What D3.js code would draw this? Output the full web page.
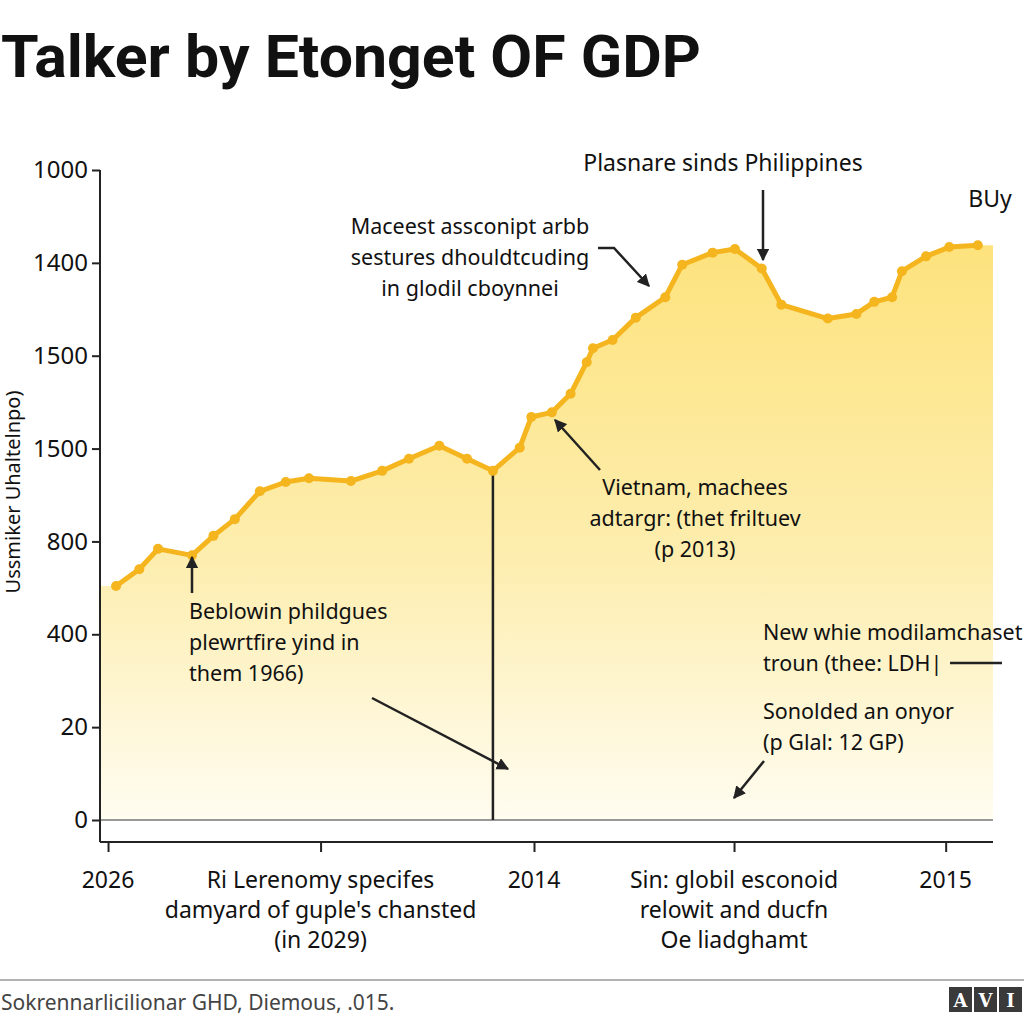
<!DOCTYPE html>
<html><head><meta charset="utf-8">
<script src="https://cdn.jsdelivr.net/npm/d3@7"></script>
<style>html,body{margin:0;padding:0;background:#fff;}svg{display:block;}</style>
</head><body>
<svg id="c" width="1024" height="1024"></svg>
<script>
// ---- data ----
const xPos = [1.8,4.4,6.5,10.3,12.7,15.1,17.9,20.8,23.4,28.1,31.6,34.6,38.0,41.1,44.0,47.0,48.3,50.6,52.7,54.5,55.2,57.4,60.0,63.3,65.2,68.6,71.1,74.1,76.3,81.5,84.7,86.7,88.7,89.8,92.5,95.1,98.3];
const values = [252,270,292,285,306,324,354,364,368,365,376,389,403,389,376,401,434,439,459,493,508,517,541,563,598,611,615,594,555,540,545,558,563,591,607,617,619];
const yTickVals = [0,100,200,300,400,500,600,700];
const yTickLabels = ["0","20","400","800","1500","1500","1400","1000"];
const xTickVals = [0.9,24.7,48.6,71.0,94.7];
const xTickLabels = [["2026"],["Ri Lerenomy specifes","damyard of guple's chansted","(in 2029)"],["2014"],["Sin: globil esconoid","relowit and ducfn","Oe liadghamt"],["2015"]];
const title = "Talker by Etonget OF GDP";
const yTitle = "Ussmiker Uhaltelnpo)";
const footer = "Sokrennarlicilionar GHD, Diemous, .015.";

const svg = d3.select("#c");
const FONT = "'Noto Sans', 'Open Sans', sans-serif";
const x = d3.scaleLinear().domain([0,100]).range([100,993]);
const y = d3.scaleLinear().domain([0,700]).range([820,170]);

const defs = svg.append("defs");
const grad = defs.append("linearGradient").attr("id","g").attr("gradientUnits","userSpaceOnUse")
  .attr("x1",0).attr("x2",0).attr("y1",240).attr("y2",830);
grad.append("stop").attr("offset","0%").attr("stop-color","#fde27c");
grad.append("stop").attr("offset","55%").attr("stop-color","#fdeeb0");
grad.append("stop").attr("offset","100%").attr("stop-color","#fffdf3");
const mk = defs.append("marker").attr("id","ah").attr("viewBox","0 0 10 10").attr("refX",9).attr("refY",5)
  .attr("markerWidth",5).attr("markerHeight",5).attr("orient","auto-start-reverse").attr("markerUnits","strokeWidth");
mk.append("path").attr("d","M0,0 L10,5 L0,10 z").attr("fill","#222");

// title
svg.append("text").attr("x",1).attr("y",77).attr("font-family","Roboto, 'Noto Sans', sans-serif")
  .attr("font-weight",700).attr("font-size",60).attr("textLength",700).attr("lengthAdjust","spacingAndGlyphs")
  .attr("fill","#111").text(title);

// area
const pts = xPos.map((d,i)=>({x:d,v:values[i]}));
const areaPts = [{x:0,v:values[0]}, ...pts, {x:100,v:values[values.length-1]}];
svg.append("path").datum(areaPts)
  .attr("d", d3.area().x(d=>x(d.x)).y0(y(0)).y1(d=>y(d.v)))
  .attr("fill","url(#g)");

// baseline
svg.append("line").attr("x1",100).attr("x2",993).attr("y1",y(0)).attr("y2",y(0)).attr("stroke","#777").attr("stroke-width",1.5);

// vertical marker line
svg.append("line").attr("x1",x(xPos[14])).attr("x2",x(xPos[14])).attr("y1",y(values[14])).attr("y2",y(0))
  .attr("stroke","#222").attr("stroke-width",2.5);

// line + dots
svg.append("path").datum(pts).attr("d", d3.line().x(d=>x(d.x)).y(d=>y(d.v)))
  .attr("fill","none").attr("stroke","#f5b51e").attr("stroke-width",5).attr("stroke-linejoin","round");
svg.append("g").selectAll("circle").data(pts).join("circle")
  .attr("cx",d=>x(d.x)).attr("cy",d=>y(d.v)).attr("r",5).attr("fill","#f5b51e");

// y axis
const yAxis = d3.axisLeft(y).tickValues(yTickVals).tickFormat((d,i)=>yTickLabels[i]).tickSize(8).tickSizeOuter(0);
const ya = svg.append("g").attr("transform","translate(100,0)").call(yAxis);
ya.select(".domain").remove();
ya.append("line").attr("x1",0).attr("x2",0).attr("y1",170).attr("y2",842).attr("stroke","#222").attr("stroke-width",2);
ya.selectAll(".tick line").attr("stroke","#222").attr("stroke-width",2);
ya.selectAll(".tick text").attr("font-family",FONT).attr("font-size",24).attr("fill","#111").attr("x",-12);

// x axis
const xAxis = d3.axisBottom(x).tickValues(xTickVals).tickFormat("").tickSize(10).tickSizeOuter(0);
const xa = svg.append("g").attr("transform","translate(0,842)").call(xAxis);
xa.select(".domain").remove();
xa.append("line").attr("x1",100).attr("x2",993).attr("y1",0).attr("y2",0).attr("stroke","#222").attr("stroke-width",2);
xa.selectAll(".tick line").attr("stroke","#222").attr("stroke-width",2);
xTickVals.forEach((v,i)=>{
  const t = svg.append("text").attr("font-family",FONT).attr("font-size",23).attr("fill","#111").attr("text-anchor","middle");
  xTickLabels[i].forEach((s,j)=>t.append("tspan").attr("x",x(v)).attr("y",888+j*30).text(s));
});

// y title
svg.append("text").attr("transform","translate(20,492) rotate(-90)").attr("text-anchor","middle")
  .attr("font-family",FONT).attr("font-size",20).attr("fill","#111").text(yTitle);

// annotations
function mtext(lines, xx, yy, anchor, size, lh){
  const t = svg.append("text").attr("font-family",FONT).attr("font-size",size).attr("fill","#111").attr("text-anchor",anchor);
  lines.forEach((s,j)=>t.append("tspan").attr("x",xx).attr("y",yy+j*lh).text(s));
}
function arrow(points){
  svg.append("path").attr("d", d3.line()(points)).attr("fill","none").attr("stroke","#222").attr("stroke-width",2.5).attr("marker-end","url(#ah)");
}
mtext(["Maceest assconipt arbb","sestures dhouldtcuding","in glodil cboynnei"], 470, 234, "middle", 21.5, 31);
arrow([[598,248],[614,248],[649,286]]);
mtext(["Plasnare sinds Philippines"], 723, 171, "middle", 23, 30);
arrow([[763,190],[763,260]]);
mtext(["BUy"], 990, 207, "middle", 23, 30);
mtext(["Vietnam, machees","adtargr: (thet friltuev","(p 2013)"], 695, 495, "middle", 21.5, 31);
arrow([[600,470],[555,420]]);
mtext(["Beblowin phildgues","plewrtfire yind in","them 1966)"], 189, 619, "start", 21.5, 31);
arrow([[192,593],[192,557]]);
arrow([[372,698],[508,769]]);
mtext(["New whie modilamchaset","troun (thee: LDH|"], 763, 640, "start", 21.5, 31);
svg.append("line").attr("x1",950).attr("x2",1002).attr("y1",663).attr("y2",663).attr("stroke","#222").attr("stroke-width",2.5);
mtext(["Sonolded an onyor","(p Glal: 12 GP)"], 763, 719, "start", 21.5, 31);
arrow([[764,761],[734,798]]);

// footer
svg.append("line").attr("x1",0).attr("x2",1024).attr("y1",980).attr("y2",980).attr("stroke","#999").attr("stroke-width",1.5);
svg.append("text").attr("x",1).attr("y",1010).attr("font-family",FONT).attr("font-size",21).attr("fill","#444").text(footer);
const logo = ["A","V","I","E"];
logo.forEach((l,i)=>{
  svg.append("rect").attr("x",949+i*25).attr("y",987).attr("width",23).attr("height",25).attr("fill","#3a3a3a");
  svg.append("text").attr("x",949+i*25+11.5).attr("y",1007).attr("text-anchor","middle").attr("font-family","'DejaVu Serif', serif")
    .attr("font-weight",700).attr("font-size",18).attr("fill","#fff").text(l);
});
</script>
</body></html>
